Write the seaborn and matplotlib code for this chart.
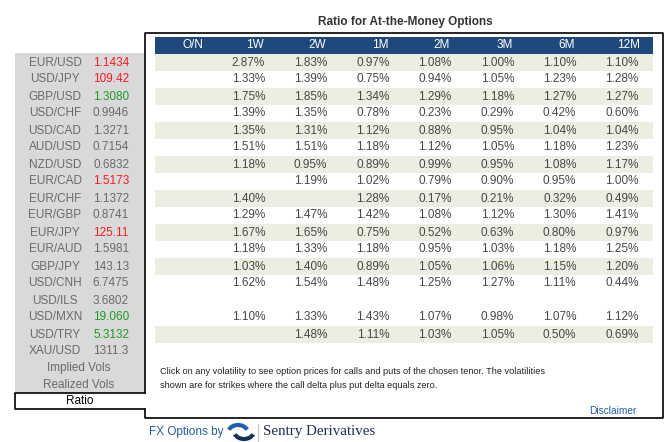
import numpy as np
import pandas as pd
import matplotlib
matplotlib.use("Agg")
import matplotlib.pyplot as plt
from matplotlib.colors import ListedColormap
from matplotlib.patches import Rectangle, Arc
import seaborn as sns

pairs = ["EUR/USD", "USD/JPY", "GBP/USD", "USD/CHF", "USD/CAD", "AUD/USD",
         "NZD/USD", "EUR/CAD", "EUR/CHF", "EUR/GBP", "EUR/JPY", "EUR/AUD",
         "GBP/JPY", "USD/CNH", "USD/ILS", "USD/MXN", "USD/TRY", "XAU/USD"]
spots = ["1.1434", "109.42", "1.3080", "0.9946", "1.3271", "0.7154",
         "0.6832", "1.5173", "1.1372", "0.8741", "125.11", "1.5981",
         "143.13", "6.7475", "3.6802", "19.060", "5.3132", "1311.3"]
moves = ["down", "down", "up", "", "", "", "", "down", "", "", "down", "",
         "", "", "", "up", "up", ""]
tenors = ["O/N", "1W", "2W", "1M", "2M", "3M", "6M", "12M"]

ratio_on = [None] * 18
ratio_1w = [2.87, 1.33, 1.75, 1.39, 1.35, 1.51, 1.18, None, 1.40, 1.29, 1.67, 1.18, 1.03, 1.62, None, 1.10, None, None]
ratio_2w = [1.83, 1.39, 1.85, 1.35, 1.31, 1.51, 0.95, 1.19, None, 1.47, 1.65, 1.33, 1.40, 1.54, None, 1.33, 1.48, None]
ratio_1m = [0.97, 0.75, 1.34, 0.78, 1.12, 1.18, 0.89, 1.02, 1.28, 1.42, 0.75, 1.18, 0.89, 1.48, None, 1.43, 1.11, None]
ratio_2m = [1.08, 0.94, 1.29, 0.23, 0.88, 1.12, 0.99, 0.79, 0.17, 1.08, 0.52, 0.95, 1.05, 1.25, None, 1.07, 1.03, None]
ratio_3m = [1.00, 1.05, 1.18, 0.29, 0.95, 1.05, 0.95, 0.90, 0.21, 1.12, 0.63, 1.03, 1.06, 1.27, None, 0.98, 1.05, None]
ratio_6m = [1.10, 1.23, 1.27, 0.42, 1.04, 1.18, 1.08, 0.95, 0.32, 1.30, 0.80, 1.18, 1.15, 1.11, None, 1.07, 0.50, None]
ratio_12m = [1.10, 1.28, 1.27, 0.60, 1.04, 1.23, 1.17, 1.00, 0.49, 1.41, 0.97, 1.25, 1.20, 0.44, None, 1.12, 0.69, None]

shaded_rows = [1, 0, 1, 0, 1, 0, 1, 0, 1, 0, 1, 0, 1, 0, 0, 0, 1, 0]

side_menu = ["Implied Vols", "Realized Vols"]
active_tab = "Ratio"
title = "Ratio for At-the-Money Options"
note = ("Click on any volatility to see option prices for calls and puts of the chosen tenor. The volatilities\n"
        "shown are for strikes where the call delta plus put delta equals zero.")

FONT = "Liberation Sans"
BLUE = "#1f497d"
GREY_TXT = "#6a6a6a"
VAL_TXT = "#474747"
move_colors = {"up": "#1e9a1e", "down": "#ff1a1a", "": GREY_TXT}


def main():
    sns.set_theme(style="white")
    plt.rcParams["font.family"] = [FONT, "DejaVu Sans"]

    table = pd.DataFrame({
        "O/N": ratio_on, "1W": ratio_1w, "2W": ratio_2w, "1M": ratio_1m,
        "2M": ratio_2m, "3M": ratio_3m, "6M": ratio_6m, "12M": ratio_12m,
    }, index=pairs)
    labels = table.map(lambda v: "" if v is None or pd.isna(v) else f"{v:.2f}%")
    shade = np.repeat(np.array(shaded_rows)[:, None], len(tenors), axis=1)

    W, H = 670, 442
    fig = plt.figure(figsize=(6.7, 4.42), dpi=100)

    # pixel-space overlay for the frame and side panel
    bg = fig.add_axes([0, 0, 1, 1])
    bg.set_xlim(0, W)
    bg.set_ylim(H, 0)
    bg.axis("off")

    row_h = 17
    top = 54
    n = len(pairs)
    tbl_x0, tbl_w = 155, 498

    # left grey panel
    bg.add_patch(Rectangle((15, 53), 130, 340, facecolor="#d9d9dc", edgecolor="none"))
    # main box border, open where the active tab sits
    bg.plot([145, 145, 663, 663, 145, 145], [393, 33, 33, 418, 418, 409], color="black", lw=1.2)
    bg.plot([145, 15, 15, 145], [393, 393, 409, 409], color="black", lw=1.2)
    bg.text(80, 401.5, active_tab, ha="center", va="center", fontsize=8.5, color="black")

    for i, (p, s, m) in enumerate(zip(pairs, spots, moves)):
        y = top + row_h * (i + 0.5)
        bg.text(55, y, p, ha="center", va="center", fontsize=8.5, color=GREY_TXT)
        bg.text(111, y, s, ha="center", va="center", fontsize=8.5, color=move_colors[m])
    for j, item in enumerate(side_menu):
        bg.text(79, top + row_h * (n + j + 0.5), item, ha="center", va="center",
                fontsize=8.5, color=GREY_TXT)

    # header bar
    bg.add_patch(Rectangle((tbl_x0, 37), tbl_w, 17, facecolor=BLUE, edgecolor="none"))
    col_w = tbl_w / len(tenors)
    for k, t in enumerate(tenors):
        bg.text(tbl_x0 + col_w * (k + 0.5) + 7, 45.5, t, ha="center", va="center",
                fontsize=8.5, color="white")

    bg.text(405, 22.5, title, ha="center", va="center", fontsize=8.5,
            fontweight="bold", color="#333333")
    bg.text(160, 378.5, note, ha="left", va="center", fontsize=6.6,
            color="#222222", linespacing=1.65)
    bg.text(613, 411.5, "Disclaimer", ha="center", va="center", fontsize=7.3, color="#1f5fa8")

    # footer
    bg.text(149, 432, "FX Options by", ha="left", va="center", fontsize=8.5, color="#1f5fa8")
    bg.add_patch(Arc((238, 433), 20, 16, theta1=200, theta2=340, color="#1f5fa8", lw=3))
    bg.add_patch(Arc((244, 431), 20, 16, theta1=20, theta2=160, color="#12325a", lw=3))
    bg.plot([258, 258], [424, 441], color="#cccccc", lw=1)
    bg.text(263, 432, "Sentry Derivatives", ha="left", va="center", fontsize=10.8,
            color="#1d2f55", family=["Liberation Serif", "DejaVu Serif"])

    # ratio table
    ax = fig.add_axes([tbl_x0 / W, 1 - (top + row_h * n) / H, tbl_w / W, row_h * n / H])
    sns.heatmap(shade, ax=ax, cmap=ListedColormap(["#ffffff", "#ebeee0"]), vmin=0, vmax=1,
                cbar=False, annot=labels.values, fmt="",
                annot_kws={"color": VAL_TXT, "fontsize": 8.5},
                xticklabels=False, yticklabels=False, linewidths=0)
    ax.patch.set_alpha(0)
    for sp in ax.spines.values():
        sp.set_visible(False)

    fig.savefig("out.png", dpi=100)


if __name__ == "__main__":
    main()
